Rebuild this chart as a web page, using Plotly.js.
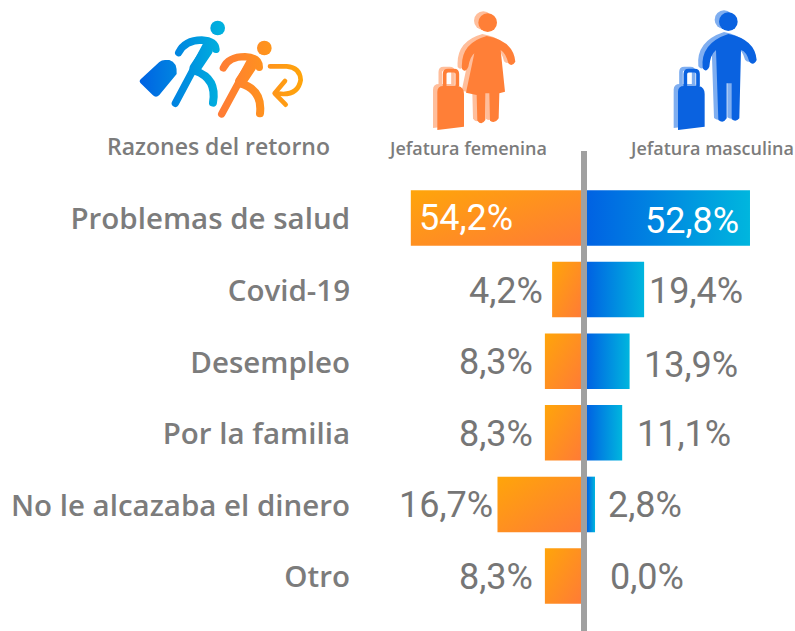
<!DOCTYPE html>
<html>
<head>
<meta charset="utf-8">
<script src="https://cdn.plot.ly/plotly-3.0.1.min.js"></script>
<style>html,body{margin:0;padding:0;background:#fff;overflow:hidden}</style>
</head>
<body>
<div id="chart" style="width:795px;height:631px"></div>
<script>
var categories = ['Problemas de salud','Covid-19','Desempleo','Por la familia','No le alcazaba el dinero','Otro'];
// Printed percentages
var femeninaLabels = ['54,2%','4,2%','8,3%','8,3%','16,7%','8,3%'];
var masculinaLabels = ['52,8%','19,4%','13,9%','11,1%','2,8%','0,0%'];
// Bar lengths as drawn in the reference: its orange bars are not to scale with their printed labels
var femeninaDrawn = [54.2, 9.2, 11.5, 11.5, 26.6, 11.5];
var masculinaDrawn = [52.8, 18.5, 13.8, 11.4, 2.6, 0];
// Label placement relative to the bar ends
var femGap = [-6, 7, 10, 10, 2, 10];
var mascGap = [-9, 3, 12, 13, 11, 21];
var femShift = [0, 1, 1, 1, 1, 1];
var mascShift = [3, 1, 4, 1, 1, 1];

var W = 795, H = 631;
var GREY = '#767676';
var LABEL_GREY = '#7c7c7c';

function uri(s){ return 'data:image/svg+xml,' + encodeURIComponent(s); }

var runnersSvg = '<svg xmlns="http://www.w3.org/2000/svg" viewBox="0 0 720 510" width="720" height="510">' +
 '<defs>' +
 '<linearGradient id="bb" gradientUnits="userSpaceOnUse" x1="60" x2="300" y1="0" y2="0"><stop offset="0" stop-color="#0062E3"/><stop offset="1" stop-color="#00B0DE"/></linearGradient>' +
 '<linearGradient id="o" gradientUnits="userSpaceOnUse" x1="295" x2="550" y1="0" y2="0"><stop offset="0" stop-color="#FF7B36"/><stop offset="1" stop-color="#FFA50A"/></linearGradient></defs>' +
 '<circle cx="293" cy="84" r="22" fill="url(#bb)"/>' +
 '<path d="M62 238 L118 186 Q125 180 135 180 L148 180 Q172 186 170 222 L118 285 Q108 296 98 285 L62 250 Q56 244 62 238 Z" fill="url(#bb)"/>' +
 '<g fill="none" stroke="url(#bb)" stroke-linecap="round" stroke-linejoin="round">' +
 '<path d="M176 158 Q195 120 245 120 Q285 122 288 148" stroke-width="22"/>' +
 '<path d="M262 130 L166 310" stroke-width="22"/><path d="M262 150 L225 205" stroke-width="34"/>' +
 '<path d="M225 212 Q292 235 279 308" stroke-width="24"/></g>' +
 '<circle cx="433" cy="144" r="22" fill="url(#o)"/>' +
 '<g fill="none" stroke="url(#o)" stroke-linecap="round" stroke-linejoin="round">' +
 '<path d="M310 204 Q325 170 375 170 Q418 172 418 202" stroke-width="22"/>' +
 '<path d="M390 185 L305 342" stroke-width="22"/><path d="M392 200 L362 245" stroke-width="34"/>' +
 '<path d="M362 250 Q428 270 420 340" stroke-width="24"/>' +
 '<path d="M450 199 L500 199 Q540 202 542 240 Q535 282 490 282 L470 280" stroke-width="14"/>' +
 '<path d="M495 243 L464 280 L497 314" stroke-width="14"/></g></svg>';

var suitcase = function(dx){ return '<g transform="translate(' + dx + ',0)">' +
 '<path d="M172 275 Q172 258 190 258 L235 258 Q252 262 252 282 L252 380 L172 390 Z"/>' +
 '<path d="M194 258 L194 222 Q194 212 204 212 L222 212 Q232 212 232 222 L232 258" fill="none" stroke-width="11"/></g>'; };

var femaleBody = '<circle cx="323" cy="68" r="28"/>' +
 '<path d="M246 207 Q240 130 320 108 Q400 122 406 185 Q396 202 385 190 Q378 160 362 150 L375 275 L358 280 L356 355 Q345 372 330 362 L328 280 L316 280 L316 360 Q305 378 292 362 L290 285 L258 278 L283 160 Q270 170 265 200 Q256 220 246 207 Z"/>' + suitcase(0);
var maleBody = '<circle cx="1045" cy="65" r="28"/>' +
 '<path d="M968 205 Q960 130 1045 102 Q1125 118 1130 180 Q1120 200 1108 185 Q1100 155 1083 150 L1078 355 Q1068 368 1055 358 L1055 250 L1040 250 L1040 355 Q1030 372 1015 360 L1008 150 Q990 165 988 200 Q978 220 968 205 Z"/>' + suitcase(722);

function person(body, light, main){
  return '<g fill="' + light + '" transform="translate(-13,-6)">' +
    body.replace(/stroke-width="11"/g, 'stroke-width="11" stroke="' + light + '"') + '</g>' +
    '<g fill="' + main + '">' + body.replace(/stroke-width="11"/g, 'stroke-width="11" stroke="' + main + '"') + '</g>';
}
var peopleSvg = '<svg xmlns="http://www.w3.org/2000/svg" viewBox="0 0 1245 510" width="1245" height="510">' +
  person(femaleBody, '#FFBE9B', '#FF7F37') + person(maleBody, '#7FAEF0', '#0A62E0') + '</svg>';

var traces = [
  {type:'bar', orientation:'h', y:categories, x:femeninaDrawn, xaxis:'x', yaxis:'y', marker:{color:'#FF9020'}, hoverinfo:'skip', name:'Jefatura femenina'},
  {type:'bar', orientation:'h', y:categories, x:masculinaDrawn, xaxis:'x2', yaxis:'y', marker:{color:'#0088E0'}, hoverinfo:'skip', name:'Jefatura masculina'}
];

var annotations = [];
function header(text, x, y, size){
  annotations.push({text:text, xref:'paper', yref:'paper', x:x/W, y:1-y/H, showarrow:false, xanchor:'center', yanchor:'middle',
    font:{family:'"Open Sans", sans-serif', size:size, color:LABEL_GREY, weight:600}});
}
header('Razones del retorno', 218, 146, 23);
header('Jefatura femenina', 467, 148, 18);
header('Jefatura masculina', 711, 148, 18);

categories.forEach(function(c,i){
  var inside = femGap[i] < 0;
  annotations.push({text:femeninaLabels[i], xref:'x', yref:'y', x:femeninaDrawn[i], y:c, showarrow:false,
    xanchor: inside ? 'left' : 'right', xshift: -femGap[i], yshift:-femShift[i],
    font:{family:'Roboto, sans-serif', size:36, color: inside ? '#ffffff' : GREY}});
  var inside2 = mascGap[i] < 0;
  annotations.push({text:masculinaLabels[i], xref:'x2', yref:'y', x:masculinaDrawn[i], y:c, showarrow:false,
    xanchor: inside2 ? 'right' : 'left', xshift: mascGap[i], yshift:-mascShift[i],
    font:{family:'Roboto, sans-serif', size:36, color: inside2 ? '#ffffff' : GREY}});
});

var layout = {
  width:W, height:H, margin:{l:0,r:0,t:0,b:0}, showlegend:false,
  paper_bgcolor:'#ffffff', plot_bgcolor:'rgba(0,0,0,0)',
  barmode:'overlay', bargap:0.225,
  xaxis:{domain:[0,581/W], range:[581/3.14,0], visible:false, fixedrange:true, anchor:'y'},
  xaxis2:{domain:[587/W,1], range:[0,208/3.087], visible:false, fixedrange:true, anchor:'y'},
  yaxis:{domain:[1-611.8/H,1-182.2/H], range:[5.5,-0.5], type:'category', categoryorder:'array', categoryarray:categories,
    anchor:'free', position:350/W, showline:false, showgrid:false, zeroline:false, ticks:'', fixedrange:true,
    ticklabelshift:-1,
    tickfont:{family:'"Open Sans", sans-serif', size:29.5, color:LABEL_GREY, weight:600}},
  annotations:annotations,
  shapes:[{type:'rect', xref:'paper', yref:'paper', x0:581/W, x1:587/W, y0:0, y1:1-151/H, fillcolor:'#A0A0A0', line:{width:0}, layer:'above'}],
  images:[
    {source:uri(runnersSvg), xref:'paper', yref:'paper', x:120/W, y:1, sizex:240/W, sizey:170/H, xanchor:'left', yanchor:'top', sizing:'stretch', layer:'above'},
    {source:uri(peopleSvg), xref:'paper', yref:'paper', x:380/W, y:1, sizex:415/W, sizey:170/H, xanchor:'left', yanchor:'top', sizing:'stretch', layer:'above'}
  ]
};

Plotly.newPlot('chart', traces, layout, {displayModeBar:false, staticPlot:true}).then(function(gd){
  var svg = gd.querySelector('svg.main-svg');
  var NS = 'http://www.w3.org/2000/svg';
  var defs = document.createElementNS(NS,'defs');
  defs.innerHTML =
    '<linearGradient id="barO" x1="0" y1="0" x2="1" y2="1"><stop offset="0" stop-color="#FFA50A"/><stop offset="1" stop-color="#FF7B36"/></linearGradient>' +
    '<linearGradient id="barB" x1="0" y1="0.5" x2="1" y2="0.5"><stop offset="0" stop-color="#0062E3"/><stop offset="1" stop-color="#00B6DE"/></linearGradient>';
  svg.insertBefore(defs, svg.firstChild);
  gd.querySelectorAll('.barlayer .trace.bars').forEach(function(g,i){
    g.querySelectorAll('path').forEach(function(p){ p.style.fill = 'url(#' + (i===0?'barO':'barB') + ')'; });
  });
});
</script>
</body>
</html>
